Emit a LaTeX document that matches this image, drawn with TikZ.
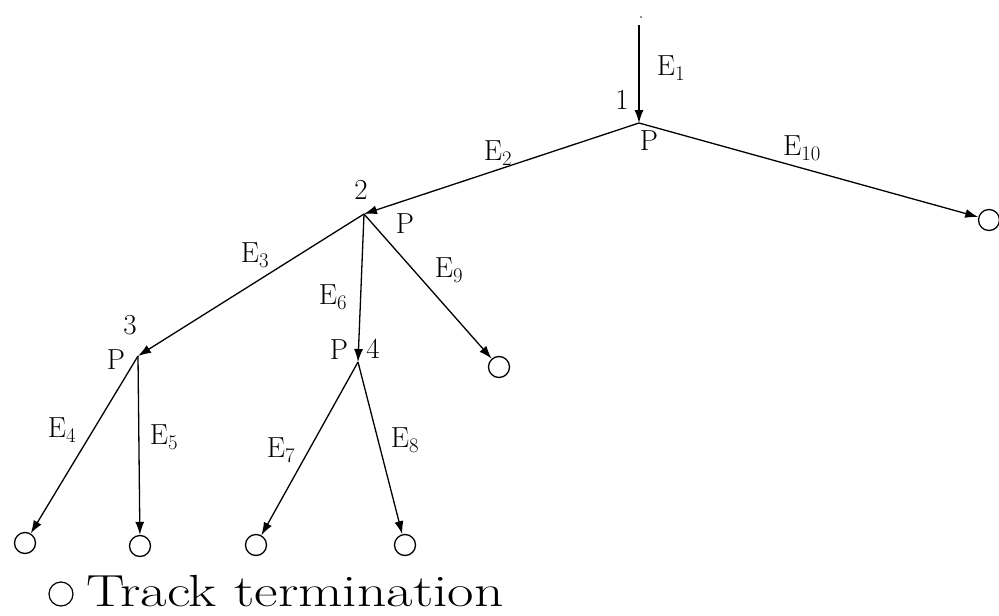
\documentclass[tikz,border=0pt]{standalone}
\usetikzlibrary{arrows.meta}
\begin{document}
\begin{tikzpicture}[x=1pt,y=-1pt,
  edge/.style={line width=1.3pt,-{Latex[length=13pt,width=9pt]}},
  term/.style={circle,draw,line width=1.3pt,minimum size=21pt,inner sep=0pt},
  lbl/.style={font=\fontsize{29}{31}\selectfont,inner sep=0pt}]
\useasboundingbox (0,0) rectangle (999,616);
% junctions
\coordinate (top) at (639,25);
\coordinate (n1) at (639,123);
\coordinate (n2) at (364,214);
\coordinate (n3) at (138,356);
\coordinate (n4) at (358,362);
% terminations
\node[term] (c10) at (989,220) {};
\node[term] (c9) at (499,367) {};
\node[term] (c4) at (25,543) {};
\node[term] (c5) at (140,546) {};
\node[term] (c7) at (256,545) {};
\node[term] (c8) at (405,545) {};
% stray dot
\fill[black!60] (641,17) circle (1.2pt);
% edges
\draw[edge] (top) -- (n1);
\draw[edge] (n1) -- (n2);
\draw[edge] (n1) -- (c10);
\draw[edge] (n2) -- (n3);
\draw[edge] (n2) -- (n4);
\draw[edge] (n2) -- (c9);
\draw[edge] (n3) -- (c4);
\draw[edge] (n3) -- (c5);
\draw[edge] (n4) -- (c7);
\draw[edge] (n4) -- (c8);
% junction labels
\node[lbl] (l1) at (622,100) {1};
\node[lbl] (p1) at (649,141) {P};
\node[lbl] (l2) at (361,190) {2};
\node[lbl] (p2) at (405,224) {P};
\node[lbl] (l3) at (130,325) {3};
\node[lbl] (p3) at (116,360) {P};
\node[lbl] (p4) at (339,350) {P};
\node[lbl] (l4) at (373,349) {4};
% edge labels
\node[lbl] (e1) at (671,68) {E$_1$};
\node[lbl] (e2) at (498,153) {E$_2$};
\node[lbl] (e10) at (802,148) {E$_{10}$};
\node[lbl] (e3) at (255,255) {E$_3$};
\node[lbl] (e6) at (333,297) {E$_6$};
\node[lbl] (e9) at (449,270) {E$_9$};
\node[lbl] (e4) at (62,430) {E$_4$};
\node[lbl] (e5) at (164,437) {E$_5$};
\node[lbl] (e7) at (281,450) {E$_7$};
\node[lbl] (e8) at (405,440) {E$_8$};
% legend
\node[circle,draw,line width=1.2pt,minimum size=24pt,inner sep=0pt] (lc) at (61,594) {};
\node[anchor=base west,inner sep=0pt] (lt) at (86,606) {\scalebox{1.28}[1]{\fontsize{45}{48}\selectfont Track termination}};
\end{tikzpicture}
\end{document}
